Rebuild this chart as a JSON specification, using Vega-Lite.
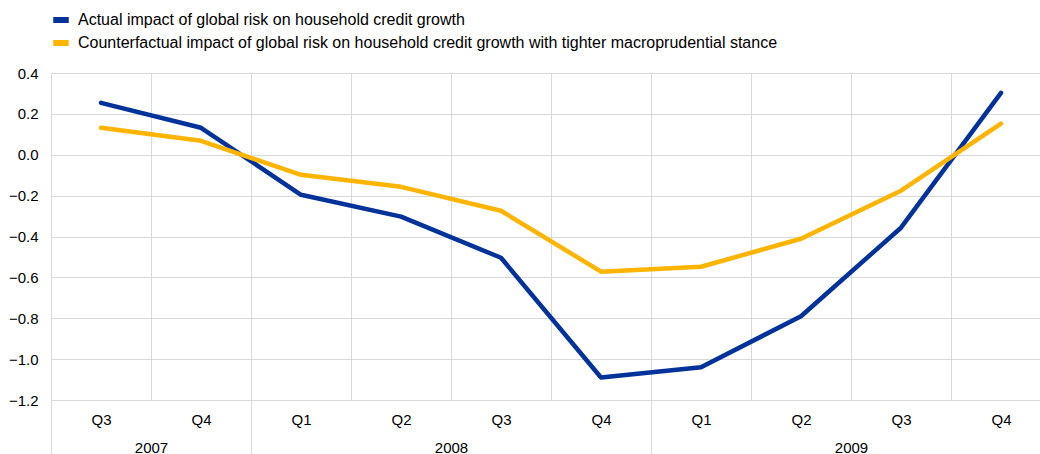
{
  "$schema": "https://vega.github.io/schema/vega-lite/v6.json",
  "autosize": {"type": "none"},
  "padding": {"left": 51, "top": 73, "right": 0, "bottom": 54},
  "width": 1000,
  "height": 327,
  "background": "white",
  "config": {
    "view": {"stroke": null},
    "font": "Liberation Sans",
    "axis": {"labelFont": "Liberation Sans", "labelColor": "#000", "labelFontSize": 15}
  },
  "data": {
    "values": [
      {"q": "2007 Q3", "series": "Actual impact of global risk on household credit growth", "value": 0.254},
      {"q": "2007 Q4", "series": "Actual impact of global risk on household credit growth", "value": 0.132},
      {"q": "2008 Q1", "series": "Actual impact of global risk on household credit growth", "value": -0.196},
      {"q": "2008 Q2", "series": "Actual impact of global risk on household credit growth", "value": -0.303},
      {"q": "2008 Q3", "series": "Actual impact of global risk on household credit growth", "value": -0.504},
      {"q": "2008 Q4", "series": "Actual impact of global risk on household credit growth", "value": -1.09},
      {"q": "2009 Q1", "series": "Actual impact of global risk on household credit growth", "value": -1.04},
      {"q": "2009 Q2", "series": "Actual impact of global risk on household credit growth", "value": -0.79},
      {"q": "2009 Q3", "series": "Actual impact of global risk on household credit growth", "value": -0.357},
      {"q": "2009 Q4", "series": "Actual impact of global risk on household credit growth", "value": 0.303},
      {"q": "2007 Q3", "series": "Counterfactual impact of global risk on household credit growth with tighter macroprudential stance", "value": 0.132},
      {"q": "2007 Q4", "series": "Counterfactual impact of global risk on household credit growth with tighter macroprudential stance", "value": 0.068},
      {"q": "2008 Q1", "series": "Counterfactual impact of global risk on household credit growth with tighter macroprudential stance", "value": -0.098},
      {"q": "2008 Q2", "series": "Counterfactual impact of global risk on household credit growth with tighter macroprudential stance", "value": -0.157},
      {"q": "2008 Q3", "series": "Counterfactual impact of global risk on household credit growth with tighter macroprudential stance", "value": -0.274},
      {"q": "2008 Q4", "series": "Counterfactual impact of global risk on household credit growth with tighter macroprudential stance", "value": -0.572},
      {"q": "2009 Q1", "series": "Counterfactual impact of global risk on household credit growth with tighter macroprudential stance", "value": -0.548},
      {"q": "2009 Q2", "series": "Counterfactual impact of global risk on household credit growth with tighter macroprudential stance", "value": -0.411},
      {"q": "2009 Q3", "series": "Counterfactual impact of global risk on household credit growth with tighter macroprudential stance", "value": -0.176},
      {"q": "2009 Q4", "series": "Counterfactual impact of global risk on household credit growth with tighter macroprudential stance", "value": 0.152}
    ]
  },
  "resolve": {"axis": {"x": "independent"}},
  "layer": [
    {
      "mark": {"type": "line", "strokeWidth": 4.5, "strokeCap": "round", "strokeJoin": "round"},
      "encoding": {
        "x": {
          "field": "q", "type": "ordinal", "sort": null,
          "scale": {"paddingInner": 0, "paddingOuter": 0},
          "axis": {
            "title": null, "orient": "bottom", "domain": false, "ticks": false, "grid": true, "tickBand": "extent",
            "gridColor": "#d9d9d9", "gridWidth": 1, "labelAngle": 0,
            "labelExpr": "split(datum.value, ' ')[1]", "labelPadding": 12
          }
        },
        "y": {
          "field": "value", "type": "quantitative",
          "scale": {"domain": [-1.2, 0.4], "nice": false, "zero": false},
          "axis": {
            "title": null, "domain": false, "ticks": false, "grid": true, "gridColor": "#d9d9d9",
            "values": [-1.2, -1.0, -0.8, -0.6, -0.4, -0.2, 0, 0.2, 0.4],
            "format": ".1f", "labelPadding": 13
          }
        },
        "color": {
          "field": "series", "type": "nominal",
          "scale": {
            "domain": ["Actual impact of global risk on household credit growth", "Counterfactual impact of global risk on household credit growth with tighter macroprudential stance"],
            "range": ["#003299", "#ffb400"]
          },
          "legend": {
            "title": null, "orient": "none", "legendX": -1, "legendY": -64, "direction": "vertical",
            "symbolType": "stroke", "symbolSize": 240, "symbolStrokeWidth": 6,
            "labelFont": "Liberation Sans", "labelFontSize": 16, "labelColor": "#000",
            "rowPadding": -1, "labelOffset": 6, "labelLimit": 0, "padding": 0
          }
        }
      }
    },
    {
      "mark": {"type": "point", "opacity": 0},
      "encoding": {
        "x": {
          "field": "q", "type": "ordinal", "sort": null,
          "axis": {
            "title": null, "orient": "bottom", "domain": false, "ticks": true, "grid": false, "tickBand": "extent",
            "tickSize": 54, "tickWidth": 1,
            "tickColor": {"condition": {"test": "isValid(datum.extra) || indexof(['2007 Q4','2008 Q4','2009 Q4'], datum.value) >= 0", "value": "#d9d9d9"}, "value": "transparent"},
            "labelAngle": 0, "labelOffset": -50, "labelPadding": -14,
            "labelExpr": "datum.value == '2007 Q4' ? '2007' : datum.value == '2008 Q3' ? '2008' : datum.value == '2009 Q3' ? '2009' : ''"
          }
        }
      }
    }
  ]
}
